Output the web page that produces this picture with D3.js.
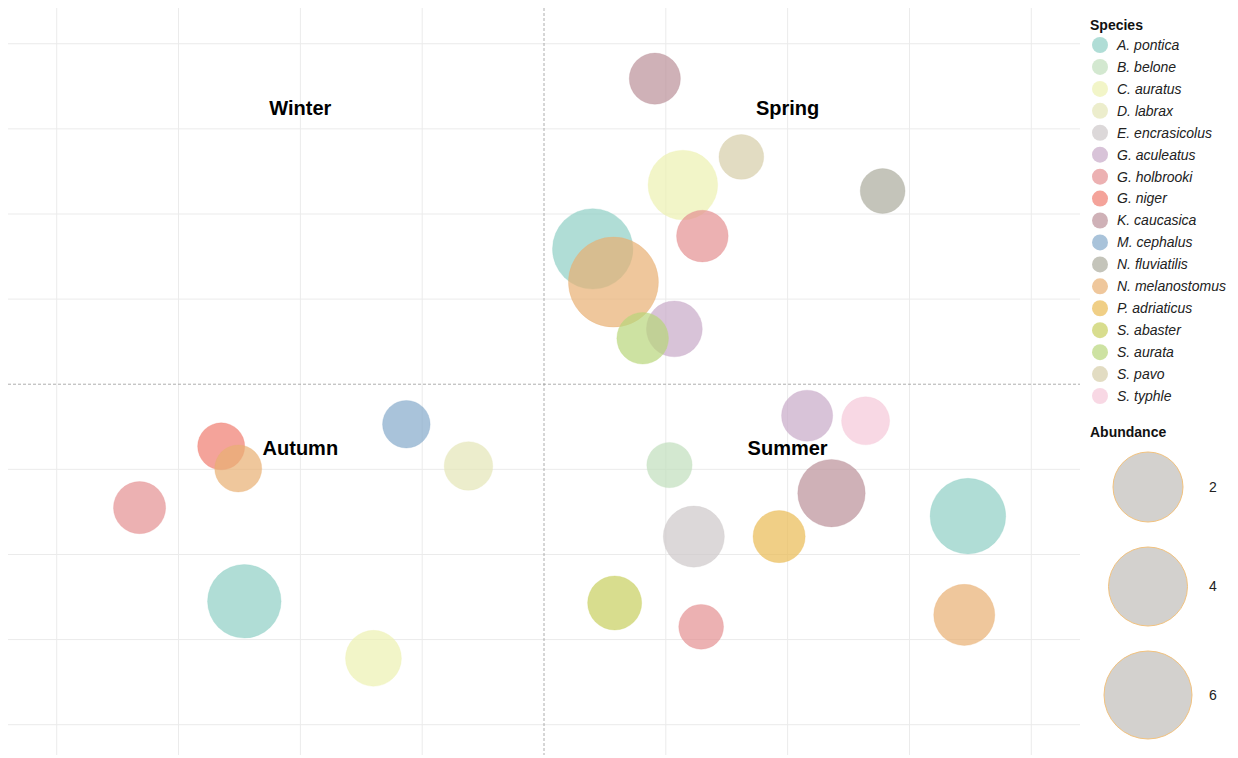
<!DOCTYPE html>
<html>
<head>
<meta charset="utf-8">
<script src="https://cdn.jsdelivr.net/npm/d3@7"></script>
<style>
  body { margin: 0; background: #fff; }
  svg { display: block; font-family: "Liberation Sans", Arial, sans-serif; }
</style>
</head>
<body>
<div id="plot"></div>
<script>
// Species and their colours (drawn with alpha 0.7)
const species = ['A. pontica', 'B. belone', 'C. auratus', 'D. labrax', 'E. encrasicolus',
  'G. aculeatus', 'G. holbrooki', 'G. niger', 'K. caucasica', 'M. cephalus',
  'N. fluviatilis', 'N. melanostomus', 'P. adriaticus', 'S. abaster', 'S. aurata',
  'S. pavo', 'S. typhle'];
const speciesColors = ['#8ecec4', '#c0debc', '#ecf1b0', '#e4e5b6', '#cdc7c9',
  '#c7a9c7', '#e49092', '#ef7c6f', '#ba9098', '#84a9ca',
  '#abab9c', '#e8af72', '#eaba52', '#c7ce5e', '#b8d67a',
  '#d6cda8', '#f5c7d8'];

// Observations per season: species, x, y, abundance
const winter = [];
const spring = [
  {sp: 'A. pontica', x: 0.40, y: 1.59, n: 5.4},
  {sp: 'C. auratus', x: 1.14, y: 2.34, n: 3.8},
  {sp: 'G. aculeatus', x: 1.07, y: 0.65, n: 2.1},
  {sp: 'G. holbrooki', x: 1.30, y: 1.74, n: 1.65},
  {sp: 'K. caucasica', x: 0.91, y: 3.59, n: 1.6},
  {sp: 'N. fluviatilis', x: 2.78, y: 2.27, n: 1.0},
  {sp: 'N. melanostomus', x: 0.57, y: 1.20, n: 7.0},
  {sp: 'S. aurata', x: 0.81, y: 0.54, n: 1.65},
  {sp: 'S. pavo', x: 1.62, y: 2.67, n: 1.0}
];
const autumn = [
  {sp: 'A. pontica', x: -2.46, y: -2.55, n: 4.35},
  {sp: 'C. auratus', x: -1.40, y: -3.22, n: 2.1},
  {sp: 'D. labrax', x: -0.62, y: -0.96, n: 1.35},
  {sp: 'G. holbrooki', x: -3.32, y: -1.45, n: 1.7},
  {sp: 'G. niger', x: -2.65, y: -0.73, n: 1.2},
  {sp: 'M. cephalus', x: -1.13, y: -0.47, n: 1.25},
  {sp: 'N. melanostomus', x: -2.51, y: -0.99, n: 1.2}
];
const summer = [
  {sp: 'A. pontica', x: 3.48, y: -1.55, n: 4.65},
  {sp: 'B. belone', x: 1.03, y: -0.95, n: 1.05},
  {sp: 'E. encrasicolus', x: 1.23, y: -1.79, n: 2.7},
  {sp: 'G. aculeatus', x: 2.16, y: -0.37, n: 1.6},
  {sp: 'G. holbrooki', x: 1.29, y: -2.85, n: 1.0},
  {sp: 'K. caucasica', x: 2.36, y: -1.28, n: 3.5},
  {sp: 'N. melanostomus', x: 3.45, y: -2.71, n: 2.7},
  {sp: 'P. adriaticus', x: 1.93, y: -1.79, n: 1.7},
  {sp: 'S. abaster', x: 0.58, y: -2.57, n: 1.9},
  {sp: 'S. typhle', x: 2.64, y: -0.43, n: 1.3}
];

// Season labels
const seasonNames = ['Winter', 'Spring', 'Autumn', 'Summer'];
const seasonX = [-2, 2, -2, 2];
const seasonY = [3.25, 3.25, -0.75, -0.75];

// Grid breaks and size legend
const xBreaks = [-4, -3, -2, -1, 1, 2, 3, 4];
const yBreaks = [-4, -3, -2, -1, 1, 2, 3, 4];
const sizeBreaks = [2, 4, 6];

function plot() {
  const W = 1238, H = 758;
  const panel = {left: 8, right: 1080, top: 8, bottom: 755};

  const svg = d3.select('#plot').append('svg')
    .attr('width', W)
    .attr('height', H);

  const x = d3.scaleLinear().domain([-4.4, 4.4]).range([panel.left, panel.right]);
  const y = d3.scaleLinear().domain([-4.356, 4.42]).range([panel.bottom, panel.top]);

  // bubble area linear in abundance
  const area = d3.scaleLinear().domain([1, 7]).range([22.4 * 22.4, 45 * 45]);
  const radius = v => Math.sqrt(area(v));

  const color = d3.scaleOrdinal().domain(species).range(speciesColors);

  // Grid
  const grid = svg.append('g');
  grid.selectAll('.vgrid')
    .data(xBreaks)
    .enter()
    .append('line')
      .attr('x1', d => x(d)).attr('x2', d => x(d))
      .attr('y1', panel.top).attr('y2', panel.bottom)
      .attr('stroke', '#ebebeb')
      .attr('stroke-width', 1);
  grid.selectAll('.hgrid')
    .data(yBreaks)
    .enter()
    .append('line')
      .attr('x1', panel.left).attr('x2', panel.right)
      .attr('y1', d => y(d)).attr('y2', d => y(d))
      .attr('stroke', '#ebebeb')
      .attr('stroke-width', 1);

  // Zero lines (dashed)
  svg.append('line')
    .attr('x1', x(0)).attr('x2', x(0))
    .attr('y1', panel.top).attr('y2', panel.bottom)
    .attr('stroke', '#9a9a9a')
    .attr('stroke-width', 0.8)
    .attr('stroke-dasharray', '3,2');
  svg.append('line')
    .attr('x1', panel.left).attr('x2', panel.right)
    .attr('y1', y(0)).attr('y2', y(0))
    .attr('stroke', '#9a9a9a')
    .attr('stroke-width', 0.8)
    .attr('stroke-dasharray', '3,2');

  // Bubbles
  const obs = [].concat(winter, spring, autumn, summer);
  svg.append('g')
    .selectAll('circle')
    .data(obs)
    .enter()
    .append('circle')
      .attr('cx', d => x(d.x))
      .attr('cy', d => y(d.y))
      .attr('r', d => radius(d.n))
      .attr('fill', d => color(d.sp))
      .attr('fill-opacity', 0.7)
      .attr('stroke', d => color(d.sp))
      .attr('stroke-opacity', 0.35)
      .attr('stroke-width', 0.8);

  // Season labels
  svg.append('g')
    .selectAll('text')
    .data(seasonNames)
    .enter()
    .append('text')
      .attr('x', (d, i) => x(seasonX[i]))
      .attr('y', (d, i) => y(seasonY[i]))
      .attr('dy', '0.35em')
      .attr('text-anchor', 'middle')
      .style('font-size', '20px')
      .style('font-weight', 'bold')
      .style('fill', '#000')
      .text(d => d);

  // Species legend
  const leg = svg.append('g');
  leg.append('text')
    .attr('x', 1090).attr('y', 30)
    .style('font-size', '14px')
    .style('font-weight', 'bold')
    .style('fill', '#111')
    .text('Species');

  const legY = d3.scalePoint().domain(species).range([45, 396]);
  const items = leg.selectAll('.item')
    .data(species)
    .enter()
    .append('g')
      .attr('transform', d => `translate(0,${legY(d)})`);
  items.append('circle')
    .attr('cx', 1100)
    .attr('cy', 0)
    .attr('r', 8)
    .attr('fill', d => color(d))
    .attr('fill-opacity', 0.7);
  items.append('text')
    .attr('x', 1117)
    .attr('y', 0)
    .attr('dy', '0.35em')
    .style('font-size', '14px')
    .style('font-style', 'italic')
    .style('fill', '#222')
    .text(d => d);

  // Abundance legend: keys stacked by their own size
  leg.append('text')
    .attr('x', 1090).attr('y', 437)
    .style('font-size', '14px')
    .style('font-weight', 'bold')
    .style('fill', '#111')
    .text('Abundance');

  const keyR = d3.scaleLinear().domain([2, 6]).range([35, 44]);
  const keyGap = 25;
  let cursor = 452;
  const keyY = sizeBreaks.map(v => {
    const c = cursor + keyR(v);
    cursor = c + keyR(v) + keyGap;
    return c;
  });
  const keys = leg.selectAll('.key')
    .data(sizeBreaks)
    .enter()
    .append('g');
  keys.append('circle')
    .attr('cx', 1148)
    .attr('cy', (d, i) => keyY[i])
    .attr('r', d => keyR(d))
    .attr('fill', '#d3d1ce')
    .attr('stroke', '#f2c27e')
    .attr('stroke-width', 1);
  keys.append('text')
    .attr('x', 1209)
    .attr('y', (d, i) => keyY[i])
    .attr('dy', '0.35em')
    .style('font-size', '14px')
    .style('fill', '#222')
    .text(d => d);
}

plot();
</script>
</body>
</html>
